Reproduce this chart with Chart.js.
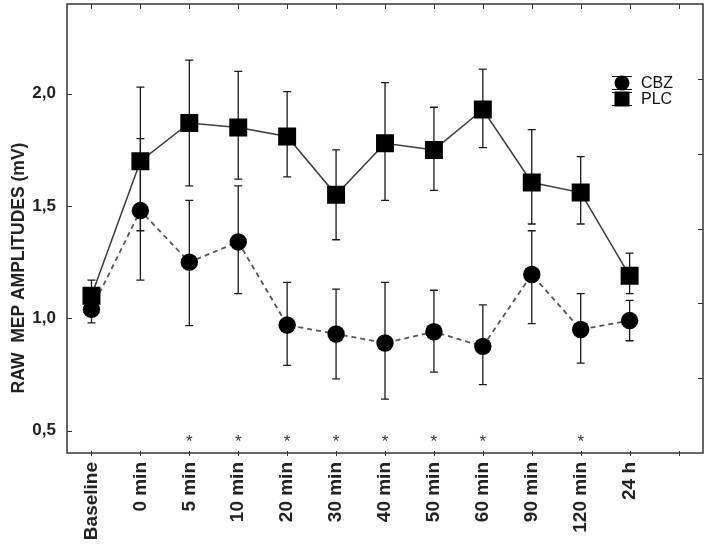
<!DOCTYPE html>
<html>
<head>
<meta charset="utf-8">
<script src="https://cdn.jsdelivr.net/npm/chart.js@4.4.1/dist/chart.umd.min.js"></script>
<style>
  body { margin: 0; background: #fff; }
</style>
</head>
<body>
<canvas id="chartMep" width="708" height="545"></canvas>
<script>
// time points (last slot is empty in the original axis)
const categorias = ['Baseline', '0 min', '5 min', '10 min', '20 min', '30 min', '40 min', '50 min', '60 min', '90 min', '120 min', '24 h', '']

// PLC (squares, solid line)
const plcMedia = [1.10, 1.70, 1.87, 1.85, 1.81, 1.55, 1.78, 1.75, 1.93, 1.605, 1.56, 1.19, null]
const plcAlto  = [1.17, 2.03, 2.15, 2.10, 2.01, 1.75, 2.05, 1.94, 2.11, 1.84, 1.72, 1.29, null]
const plcBajo  = [1.03, 1.39, 1.59, 1.62, 1.63, 1.35, 1.525, 1.57, 1.76, 1.42, 1.42, 1.11, null]

// CBZ (circles, dashed line)
const cbzMedia = [1.04, 1.48, 1.25, 1.34, 0.97, 0.93, 0.89, 0.94, 0.875, 1.195, 0.95, 0.99, null]
const cbzAlto  = [1.10, 1.80, 1.525, 1.59, 1.16, 1.13, 1.16, 1.125, 1.06, 1.39, 1.11, 1.08, null]
const cbzBajo  = [0.98, 1.17, 0.967, 1.11, 0.79, 0.73, 0.64, 0.76, 0.705, 0.976, 0.80, 0.90, null]

// significant time points (asterisks) and the level they sit at
const significativos = ['5 min', '10 min', '20 min', '30 min', '40 min', '50 min', '60 min', '120 min']
const nivelAsterisco = 0.47

const yTicksValores = [0.5, 1.0, 1.5, 2.0]
const yTicksTextos  = ['0,5', '1,0', '1,5', '2,0']

const canvas = document.getElementById('chartMep')
const context = canvas.getContext('2d')
const fuente = '"Liberation Sans", Arial, sans-serif'

const errores = { 0: [plcBajo, plcAlto], 1: [cbzBajo, cbzAlto] }

const pluginDibujo = {
    id: 'dibujo',
    beforeDatasetsDraw(chart) {
        const { ctx, scales } = chart
        const x = scales.x, y = scales.y
        ctx.save()
        ctx.strokeStyle = '#1a1a1a'
        ctx.lineWidth = 1.3
        Object.values(errores).forEach(([bajo, alto]) => {
            bajo.forEach((b, i) => {
                if (b == null) return
                const px = x.getPixelForValue(i)
                const y1 = y.getPixelForValue(b)
                const y2 = y.getPixelForValue(alto[i])
                ctx.beginPath()
                ctx.moveTo(px, y1); ctx.lineTo(px, y2)
                ctx.moveTo(px - 4, y1); ctx.lineTo(px + 4, y1)
                ctx.moveTo(px - 4, y2); ctx.lineTo(px + 4, y2)
                ctx.stroke()
            })
        })
        ctx.restore()
    },
    afterDraw(chart) {
        const { ctx, chartArea: a, scales } = chart
        const x = scales.x, y = scales.y
        ctx.save()
        // frame
        ctx.strokeStyle = '#333'
        ctx.lineWidth = 1.5
        ctx.strokeRect(a.left, a.top, a.right - a.left, a.bottom - a.top)
        ctx.lineWidth = 1
        ctx.beginPath()
        // left ticks (inside)
        yTicksValores.forEach(v => {
            const py = Math.round(y.getPixelForValue(v)) + 0.5
            ctx.moveTo(a.left, py); ctx.lineTo(a.left + 5, py)
        })
        // right ticks, 6 divisions
        for (let k = 1; k < 6; k++) {
            const py = Math.round(a.top + (a.bottom - a.top) * k / 6) + 0.5
            ctx.moveTo(a.right, py); ctx.lineTo(a.right - 5, py)
        }
        // top and bottom ticks
        categorias.forEach((c, i) => {
            const px = Math.round(x.getPixelForValue(i)) + 0.5
            ctx.moveTo(px, a.top); ctx.lineTo(px, a.top + 5)
            ctx.moveTo(px, a.bottom - 2); ctx.lineTo(px, a.bottom + 3)
        })
        ctx.stroke()

        // asterisks
        ctx.fillStyle = '#333'
        ctx.font = '17px ' + fuente
        ctx.textAlign = 'center'
        ctx.textBaseline = 'middle'
        significativos.forEach(c => {
            const i = categorias.indexOf(c)
            ctx.fillText('*', x.getPixelForValue(i), y.getPixelForValue(nivelAsterisco) + 5)
        })

        // y axis title
        ctx.fillStyle = '#222'
        ctx.font = 'bold 17.5px ' + fuente
        ctx.translate(19, 268)
        ctx.rotate(-Math.PI / 2)
        ctx.fillText('RAW  MEP AMPLITUDES (mV)', 0, 0)
        ctx.restore()

        // legend
        ctx.save()
        const lx = 622, ly1 = 83, ly2 = 99
        ctx.fillStyle = '#000'
        ctx.strokeStyle = '#111'
        ctx.lineWidth = 1
        ctx.beginPath()
        ctx.moveTo(lx - 10, ly1 - 6.5); ctx.lineTo(lx + 10, ly1 - 6.5)
        ctx.moveTo(lx - 10, ly1 + 6.5); ctx.lineTo(lx + 10, ly1 + 6.5)
        ctx.moveTo(lx - 10, ly2 - 6.5); ctx.lineTo(lx + 10, ly2 - 6.5)
        ctx.moveTo(lx - 10, ly2 + 6.5); ctx.lineTo(lx + 10, ly2 + 6.5)
        ctx.stroke()
        ctx.beginPath()
        ctx.arc(lx, ly1, 7.5, 0, Math.PI * 2)
        ctx.fill()
        ctx.fillRect(lx - 7.5, ly2 - 7.5, 15, 15)
        ctx.fillStyle = '#111'
        ctx.font = '16px ' + fuente
        ctx.textAlign = 'left'
        ctx.textBaseline = 'middle'
        ctx.fillText('CBZ', 641, ly1 + 1)
        ctx.fillText('PLC', 641, ly2 + 1)
        ctx.restore()
    }
}

const chartMep = new Chart(context, {
    type: 'line',
    data: {
        labels: categorias,
        datasets: [
            {
                label: 'PLC',
                data: plcMedia,
                borderColor: '#3a3a3a',
                borderWidth: 1.5,
                pointStyle: 'rect',
                pointRadius: 12.7,
                pointBackgroundColor: '#000',
                pointBorderColor: '#000',
                pointBorderWidth: 0,
                order: 1
            },
            {
                label: 'CBZ',
                data: cbzMedia,
                borderColor: '#555',
                borderWidth: 1.8,
                borderDash: [5, 4],
                pointStyle: 'circle',
                pointRadius: 8.7,
                pointBackgroundColor: '#000',
                pointBorderColor: '#000',
                pointBorderWidth: 0,
                order: 2
            }
        ]
    },
    options: {
        responsive: false,
        animation: false,
        layout: { autoPadding: false, padding: { top: 4, right: 5, left: 0, bottom: 0 } },
        plugins: {
            legend: { display: false },
            tooltip: { enabled: false }
        },
        scales: {
            x: {
                type: 'category',
                offset: true,
                grid: { display: false, drawTicks: false },
                border: { display: false },
                ticks: {
                    autoSkip: false,
                    minRotation: 90,
                    maxRotation: 90,
                    padding: 9,
                    color: '#222',
                    font: { family: fuente, size: 19, weight: 'bold' }
                },
                afterFit: scale => {
                    scale.height = 92
                    scale.paddingLeft = 0
                    scale.paddingRight = 0
                }
            },
            y: {
                min: 0.4,
                max: 2.4,
                grid: { display: false, drawTicks: false },
                border: { display: false },
                afterBuildTicks: scale => {
                    scale.ticks = yTicksValores.map(v => ({ value: v }))
                },
                ticks: {
                    padding: 11,
                    color: '#222',
                    font: { family: fuente, size: 17, weight: 'bold' },
                    callback: v => yTicksTextos[yTicksValores.indexOf(v)] ?? ''
                },
                afterFit: scale => {
                    scale.width = 67
                    scale.paddingTop = 0
                    scale.paddingBottom = 0
                }
            }
        }
    },
    plugins: [pluginDibujo]
})
</script>
</body>
</html>
